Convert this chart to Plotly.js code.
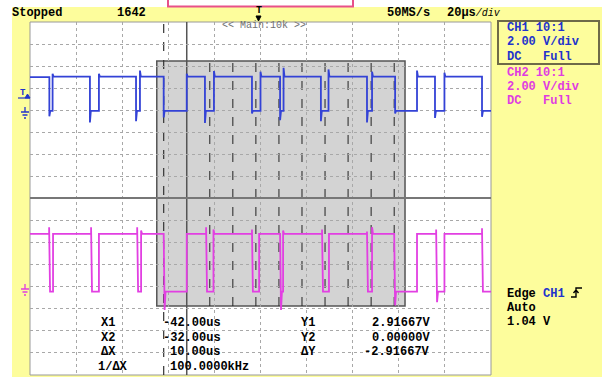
<!DOCTYPE html>
<html><head><meta charset="utf-8">
<script src="https://cdn.plot.ly/plotly-3.0.1.min.js"></script>
<style>html,body{margin:0;padding:0;background:#fff;overflow:hidden}#chart{width:602px;height:377px}</style>
</head><body><div id="chart"></div>
<script>
// ---- data (time in µs, voltage in V) ----
const ch1Time = [-100,-91.6,-91.6,-91.2,-90.2,-90.2,-89.8,-74.0,-74.0,-73.6,-70.1,-70.1,-69.7,-54.0,-54.0,-53.6,-52.3,-52.3,-51.9,-42.0,-42.0,-41.6,-32.0,-32.0,-31.6,-24.1,-24.1,-23.7,-20.2,-20.2,-19.8,-3.7,-3.7,-3.3,0,0,0.4,8.5,8.5,8.9,10.0,10.0,10.4,26.2,26.2,26.6,29.5,29.5,29.9,46.2,46.2,46.6,48.4,48.4,48.8,58.4,58.4,58.8,67.9,67.9,68.3,75.7,75.7,76.1,79.8,79.8,80.2,96.1,96.1,96.5,100];
const ch1Volt = [3.0,3.0,-0.55,-0.05,-0.05,3.3,3.05,3.05,-1.1,-0.05,-0.05,3.3,3.05,3.05,-1.0,-0.05,-0.05,3.6,3.05,3.05,-0.65,-0.05,-0.05,3.3,3.05,3.05,-1.15,-0.05,-0.05,3.55,3.05,3.05,-0.3,-0.05,-0.05,3.5,3.05,3.05,-0.9,-0.05,-0.05,3.85,3.05,3.05,-1.0,-0.05,-0.05,3.7,3.05,3.05,-1.1,-0.05,-0.05,3.5,3.05,3.05,-0.3,-0.05,-0.05,3.6,3.05,3.05,-0.7,-0.05,-0.05,3.4,3.05,3.05,-0.6,-0.05,-0.05];

const ch2Time = [-100,-91.7,-91.7,-91.3,-90.9,-90.0,-90.0,-89.6,-73.5,-73.5,-73.1,-72.7,-70.1,-70.1,-69.7,-53.5,-53.5,-53.1,-52.7,-51.8,-51.8,-51.4,-42.0,-42.0,-41.6,-41.2,-32.0,-32.0,-31.6,-23.6,-23.6,-23.2,-22.8,-20.4,-20.4,-20.0,-3.7,-3.7,-3.3,-2.9,-0.6,-0.6,-0.2,8.5,8.5,8.9,9.3,9.8,9.8,10.2,26.7,26.7,27.1,27.5,29.7,29.7,30.1,46.2,46.2,46.6,47.0,48.4,48.4,48.8,58.0,58.0,58.4,58.8,67.9,67.9,68.3,76.2,76.2,76.6,77.0,79.8,79.8,80.2,96.1,96.1,96.5,96.9,100];
const ch2Volt = [5.0,5.0,5.6,-0.25,-0.25,-0.25,5.0,5.0,5.0,5.6,-0.25,-0.25,-0.25,5.0,5.0,5.0,5.6,-0.25,-0.25,-0.25,5.3,5.0,5.0,5.0,-1.9,-0.25,-0.25,5.0,5.0,5.0,5.6,-0.25,-0.25,-0.25,5.4,5.0,5.0,5.4,-0.25,-0.25,-0.25,5.0,5.0,5.0,5.0,-1.9,-0.25,-0.25,5.3,5.0,5.0,5.4,-0.25,-0.25,-0.25,5.0,5.0,5.0,5.2,-0.25,-0.25,-0.25,5.6,5.0,5.0,5.0,-1.5,-0.25,-0.25,5.0,5.0,5.0,5.4,-1.2,-0.25,-0.25,5.0,5.0,5.0,5.5,-0.25,-0.25,-0.25];

const cursorX = [-42, -32];           // X1, X2 (µs)
const zoomWindow = [-45, 62.7];       // µs
const readoutXLabels = ['X1','X2','ΔX','1/ΔX'];
const readoutXValues = ['-42.00us','-32.00us','10.00us','100.0000kHz'];
const readoutYLabels = ['Y1','Y2','ΔY'];
const readoutYValues = ['2.91667V','0.00000V','-2.91667V'];
const ch1Info = ['CH1 10:1','2.00 V/div','DC   Full'];
const ch2Info = ['CH2 10:1','2.00 V/div','DC   Full'];
const triggerInfo = ['Auto','1.04 V'];
const statusText = 'Stopped';
const acqCount = '1642';
const sampleRate = '50MS/s';
const timeBase = '20µs';
const zoomLabel = '&lt;&lt; Main:10k &gt;&gt;';

// ---- layout helpers (pixel -> paper) ----
const L = 30, R = 491, T = 22, B = 375;
const PX = x => (x - L) / (R - L);
const PY = y => (B - y) / (B - T);
const FONT = 'Liberation Mono, DejaVu Sans Mono, monospace';
const BLUE = '#2233cc', PINK = '#e03ce0';
const nb = s => s.replace(/ /g, '\u00a0');
function A(x, y, text, color, size, anchor) {
  return {xref:'paper', yref:'paper', x:PX(x), y:PY(y), text:text, showarrow:false,
    xanchor:anchor||'left', yanchor:'middle', borderpad:0,
    font:{family:FONT, size:size||12, color:color||'#000'}};
}
function path(pts){ return pts.map((p,i)=>(p[0]==='M'||p[0]==='L')?p[0]+' '+PX(p[1])+','+PY(p[2]):'Z').join(' '); }

const shapes = [];
// yellow screen frame
shapes.push({type:'rect', xref:'paper', yref:'paper', x0:PX(12), x1:PX(610), y0:PY(385), y1:PY(7), fillcolor:'#fdfd9c', line:{width:0}, layer:'below'});
// pink header tab
shapes.push({type:'rect', xref:'paper', yref:'paper', x0:PX(168), x1:PX(353), y0:PY(6.5), y1:PY(-6), fillcolor:'#ffffff', line:{color:'#e8508a', width:2}, layer:'below'});
// white plot screen
shapes.push({type:'rect', xref:'paper', yref:'paper', x0:0, x1:1, y0:0, y1:1, fillcolor:'#ffffff', line:{color:'#999', width:1}, layer:'below'});
// zoom window box
shapes.push({type:'rect', xref:'x', yref:'paper', x0:zoomWindow[0], x1:zoomWindow[1], y0:PY(306), y1:PY(61), fillcolor:'#d3d3d3', line:{color:'#555', width:1.5}, layer:'below'});
// zoom-window dashed lines every ΔX
const dX = cursorX[1] - cursorX[0];
for (let t = cursorX[0] + 2*dX; t <= zoomWindow[1]; t += dX) {
  shapes.push({type:'line', xref:'x', yref:'paper', x0:t, x1:t, y0:PY(306), y1:PY(61), line:{color:'#222', width:1, dash:'dash'}, layer:'below'});
}
// cursors
shapes.push({type:'line', xref:'x', yref:'paper', x0:cursorX[0], x1:cursorX[0], y0:0, y1:1, line:{color:'#333', width:1.2, dash:'dash'}, layer:'below'});
shapes.push({type:'line', xref:'x', yref:'paper', x0:cursorX[1], x1:cursorX[1], y0:0, y1:1, line:{color:'#555', width:1.5}, layer:'below'});
// divider between windows
shapes.push({type:'line', xref:'paper', yref:'paper', x0:0, x1:1, y0:PY(198), y1:PY(198), line:{color:'#777', width:2}, layer:'above'});
// CH1 info box
shapes.push({type:'rect', xref:'paper', yref:'paper', x0:PX(498), x1:PX(599), y0:PY(64), y1:PY(21), line:{color:'#6e6a48', width:2}, layer:'above'});
// ground markers
function ground(y, c){
  shapes.push({type:'path', xref:'paper', yref:'paper', layer:'above', line:{color:c, width:1.3},
    path: path([['M',25,y-5],['L',25,y],['M',21,y],['L',29,y],['M',22.5,y+3],['L',27.5,y+3],['M',24,y+6],['L',26,y+6]])});
}
ground(112, BLUE); ground(289, PINK);
// CH1 trigger level marker triangle
shapes.push({type:'path', xref:'paper', yref:'paper', layer:'above', fillcolor:BLUE, line:{color:BLUE, width:1},
  path: path([['M',25,98],['L',30,98],['L',27.5,94],['Z']])});
shapes.push({type:'line', xref:'paper', yref:'paper', x0:PX(18), x1:PX(30), y0:PY(98), y1:PY(98), line:{color:BLUE, width:1.2}, layer:'above'});
// top trigger position arrow
shapes.push({type:'path', xref:'paper', yref:'paper', layer:'above', fillcolor:'#000', line:{color:'#000', width:1},
  path: path([['M',256,16],['L',261,16],['L',258.5,21],['Z']])});
// rising edge symbol
shapes.push({type:'path', xref:'paper', yref:'paper', layer:'above', line:{color:'#000', width:1.4},
  path: path([['M',571,297],['L',576,297],['L',576,288],['L',582,288],['M',573.5,293],['L',576,290],['L',578.5,293]])});

const ann = [];
ann.push(A(11, 13.5, '<b>'+statusText+'</b>'));
ann.push(A(116, 13.5, '<b>'+acqCount+'</b>'));
ann.push(A(386, 13.5, '<b>'+sampleRate+'</b>'));
ann.push(A(446, 13.5, '<b>'+timeBase+'</b><i><span style="font-size:10px">/div</span></i>'));
ann.push(A(221, 25.5, zoomLabel, '#707070', 10));
ann.push(A(258.5, 10.5, '<b>T</b>', '#000', 10, 'center'));
ann.push(A(19, 93, '<b>T</b>', BLUE, 9));
ch1Info.forEach((s,i)=>ann.push(A(506, 28 + i*14.5, '<b>'+nb(s)+'</b>', BLUE, 12)));
ch2Info.forEach((s,i)=>ann.push(A(506, 73 + i*14.2, '<b>'+nb(s)+'</b>', PINK, 12)));
ann.push(A(506, 294, '<b>Edge <span style="color:'+BLUE+'">CH1</span></b>'));
triggerInfo.forEach((s,i)=>ann.push(A(506, 308 + i*14, '<b>'+nb(s)+'</b>')));
readoutXLabels.forEach((s,i)=>{
  ann.push(A(s.length>2?97:99.5, 323 + i*14.5, '<b>'+s+'</b>'));
  const v = readoutXValues[i];
  ann.push(A(v[0]==='-'?161.5:168.8, 323 + i*14.5, '<b>'+v+'</b>'));
});
readoutYLabels.forEach((s,i)=>{
  ann.push(A(299.5, 323 + i*14.5, '<b>'+s+'</b>'));
  ann.push(A(431, 323 + i*14.5, '<b>'+readoutYValues[i]+'</b>', '#000', 12, 'right'));
});

const traces = [
  {x:ch1Time, y:ch1Volt, type:'scatter', mode:'lines', line:{color:'#3342d6', width:1.8}, yaxis:'y', hoverinfo:'skip', showlegend:false},
  {x:ch2Time, y:ch2Volt, type:'scatter', mode:'lines', line:{color:'#e23fe2', width:1.8}, yaxis:'y2', hoverinfo:'skip', showlegend:false}
];

const layout = {
  width:602, height:377,
  margin:{l:L, r:602-R, t:T, b:377-B, pad:0},
  paper_bgcolor:'#ffffff', plot_bgcolor:'rgba(0,0,0,0)',
  showlegend:false,
  xaxis:{range:[-100,100], dtick:20, tick0:0, showticklabels:false, ticks:'', zeroline:false, showline:false,
         showgrid:true, gridcolor:'#a8a8a8', gridwidth:1, griddash:'dot', fixedrange:true},
  yaxis:{range:[-24,8], dtick:2, tick0:0, showticklabels:false, ticks:'', zeroline:false, showline:false,
         showgrid:true, gridcolor:'#a8a8a8', gridwidth:1, griddash:'dot', fixedrange:true},
  yaxis2:{range:[-7.8,24.2], overlaying:'y', showticklabels:false, ticks:'', zeroline:false, showline:false, showgrid:false, fixedrange:true},
  shapes:shapes,
  annotations:ann
};
Plotly.newPlot('chart', traces, layout, {staticPlot:true, displayModeBar:false});
</script>
</body></html>
